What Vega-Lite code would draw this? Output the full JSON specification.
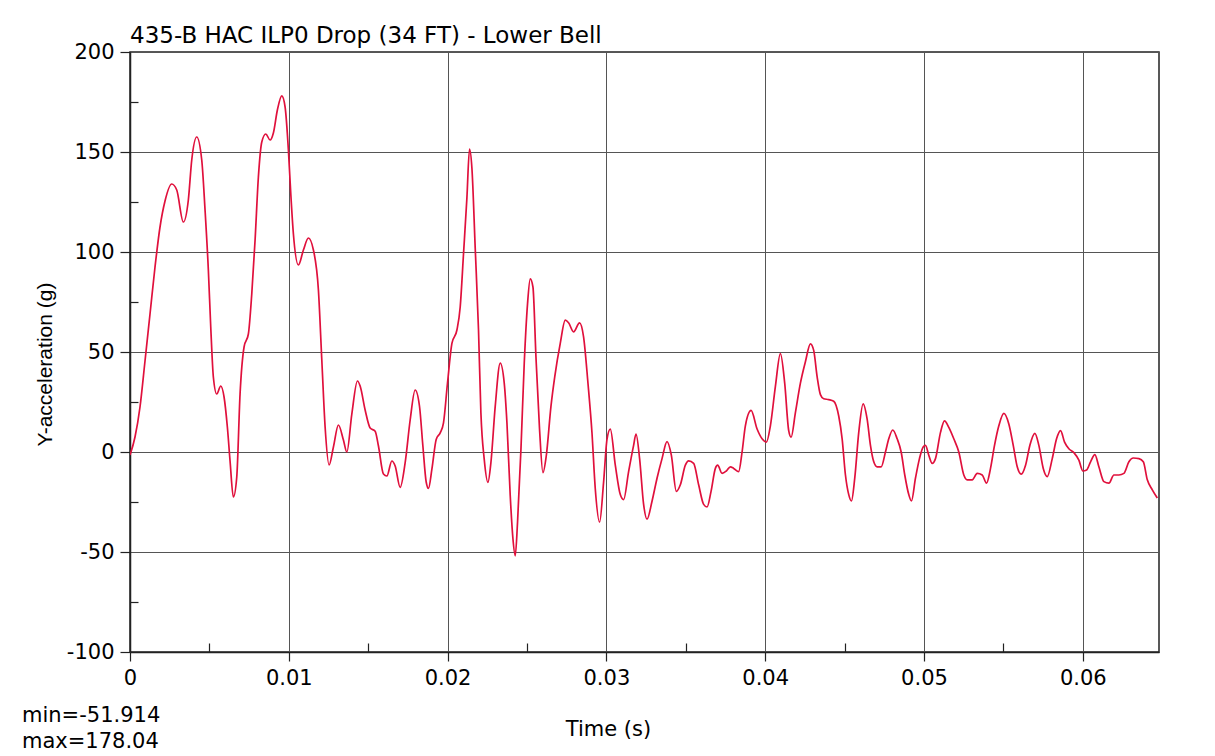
{
  "$schema": "https://vega.github.io/schema/vega-lite/v6.json",
  "width": 1029,
  "height": 600,
  "autosize": {"type": "none"},
  "padding": {"left": 130, "top": 52, "right": 56, "bottom": 104},
  "background": "white",
  "title": {
    "text": "435-B HAC ILP0 Drop (34 FT) - Lower Bell",
    "anchor": "start",
    "frame": "group",
    "font": "DejaVu Sans",
    "fontSize": 23,
    "fontWeight": "normal",
    "color": "#000000",
    "baseline": "alphabetic",
    "offset": -25
  },
  "config": {
    "view": {"stroke": "#222222", "strokeWidth": 1.5},
    "font": "DejaVu Sans"
  },
  "layer": [
    {
      "data": {
        "values": [
          {"time": 0, "accel": -1.5}, {"time": 0.000315, "accel": 7.5}, {"time": 0.00063, "accel": 22.5},
          {"time": 0.000945, "accel": 45.5}, {"time": 0.00126, "accel": 69}, {"time": 0.001575, "accel": 92.5},
          {"time": 0.00189, "accel": 112.5}, {"time": 0.002205, "accel": 125.5}, {"time": 0.002628, "accel": 134},
          {"time": 0.002943, "accel": 131}, {"time": 0.003359, "accel": 115}, {"time": 0.003674, "accel": 126},
          {"time": 0.003888, "accel": 146}, {"time": 0.004203, "accel": 157.5}, {"time": 0.004518, "accel": 146},
          {"time": 0.004726, "accel": 121}, {"time": 0.004934, "accel": 91}, {"time": 0.005085, "accel": 62.5},
          {"time": 0.005249, "accel": 37.5}, {"time": 0.005463, "accel": 29}, {"time": 0.005715, "accel": 33},
          {"time": 0.005923, "accel": 27.5}, {"time": 0.006131, "accel": 12.5}, {"time": 0.006301, "accel": -4.5},
          {"time": 0.006509, "accel": -22.5}, {"time": 0.006723, "accel": -12.5}, {"time": 0.006931, "accel": 29},
          {"time": 0.007183, "accel": 52.5}, {"time": 0.007454, "accel": 59}, {"time": 0.007668, "accel": 79},
          {"time": 0.007877, "accel": 106}, {"time": 0.008085, "accel": 137.5}, {"time": 0.008299, "accel": 155},
          {"time": 0.00855, "accel": 159}, {"time": 0.008822, "accel": 156}, {"time": 0.009029, "accel": 159.5},
          {"time": 0.009281, "accel": 171}, {"time": 0.009559, "accel": 178.04}, {"time": 0.009767, "accel": 172.5},
          {"time": 0.009975, "accel": 151}, {"time": 0.010126, "accel": 129}, {"time": 0.01029, "accel": 109},
          {"time": 0.010605, "accel": 93.5}, {"time": 0.01092, "accel": 101}, {"time": 0.011235, "accel": 107},
          {"time": 0.01155, "accel": 101}, {"time": 0.011865, "accel": 81}, {"time": 0.012079, "accel": 46},
          {"time": 0.012287, "accel": 12.5}, {"time": 0.012539, "accel": -6.5}, {"time": 0.01281, "accel": 2.5},
          {"time": 0.013125, "accel": 13.5}, {"time": 0.01344, "accel": 6}, {"time": 0.013655, "accel": 0},
          {"time": 0.01397, "accel": 19}, {"time": 0.014323, "accel": 35.5}, {"time": 0.014493, "accel": 33},
          {"time": 0.014808, "accel": 21}, {"time": 0.015123, "accel": 12}, {"time": 0.015438, "accel": 10.4},
          {"time": 0.015646, "accel": 3}, {"time": 0.015961, "accel": -11}, {"time": 0.016175, "accel": -12},
          {"time": 0.01649, "accel": -4.5}, {"time": 0.016698, "accel": -7}, {"time": 0.017013, "accel": -17.7},
          {"time": 0.017328, "accel": -5.3}, {"time": 0.017643, "accel": 16}, {"time": 0.017958, "accel": 31},
          {"time": 0.018229, "accel": 23}, {"time": 0.018444, "accel": 3}, {"time": 0.018652, "accel": -15},
          {"time": 0.018797, "accel": -18.2}, {"time": 0.019011, "accel": -8.6}, {"time": 0.019282, "accel": 6.3},
          {"time": 0.019534, "accel": 9.6}, {"time": 0.019742, "accel": 14.6}, {"time": 0.019994, "accel": 34.4},
          {"time": 0.020272, "accel": 54.3}, {"time": 0.020587, "accel": 61}, {"time": 0.020794, "accel": 72.5},
          {"time": 0.021002, "accel": 99}, {"time": 0.021216, "accel": 127}, {"time": 0.02138, "accel": 151.5},
          {"time": 0.021531, "accel": 142}, {"time": 0.021739, "accel": 102}, {"time": 0.021947, "accel": 61},
          {"time": 0.022098, "accel": 19.5}, {"time": 0.022306, "accel": -3.6}, {"time": 0.022539, "accel": -15.2},
          {"time": 0.022728, "accel": -5.3}, {"time": 0.022999, "accel": 22.8}, {"time": 0.023314, "accel": 44.4},
          {"time": 0.023567, "accel": 34.4}, {"time": 0.023737, "accel": 14.6}, {"time": 0.023945, "accel": -21.9},
          {"time": 0.024115, "accel": -43.4}, {"time": 0.024259, "accel": -51.914}, {"time": 0.024405, "accel": -35.1},
          {"time": 0.024619, "accel": 1.3}, {"time": 0.024827, "accel": 44.4}, {"time": 0.025035, "accel": 74.2},
          {"time": 0.025205, "accel": 86.6}, {"time": 0.025375, "accel": 82.5}, {"time": 0.025564, "accel": 47.7},
          {"time": 0.025791, "accel": 11.3}, {"time": 0.026005, "accel": -10.3}, {"time": 0.026213, "accel": -2},
          {"time": 0.026509, "accel": 22.8}, {"time": 0.026749, "accel": 37.7}, {"time": 0.027095, "accel": 54.3},
          {"time": 0.02741, "accel": 65.9}, {"time": 0.027618, "accel": 64.6}, {"time": 0.027933, "accel": 60.1},
          {"time": 0.028311, "accel": 64.6}, {"time": 0.028563, "accel": 57.6}, {"time": 0.02884, "accel": 34.4},
          {"time": 0.029092, "accel": 9.6}, {"time": 0.029301, "accel": -18.5}, {"time": 0.029572, "accel": -35.1},
          {"time": 0.029823, "accel": -15.2}, {"time": 0.030038, "accel": 6.3}, {"time": 0.030246, "accel": 11.4},
          {"time": 0.030561, "accel": -6.6}, {"time": 0.030876, "accel": -21.3}, {"time": 0.031084, "accel": -23.8},
          {"time": 0.031399, "accel": -9.8}, {"time": 0.031714, "accel": 3.3}, {"time": 0.031865, "accel": 9},
          {"time": 0.032092, "accel": -3.3}, {"time": 0.032344, "accel": -26.2}, {"time": 0.032559, "accel": -33.6},
          {"time": 0.032874, "accel": -24.6}, {"time": 0.033189, "accel": -13.1}, {"time": 0.033504, "accel": -3.3},
          {"time": 0.033819, "accel": 5.2}, {"time": 0.03409, "accel": -1.6}, {"time": 0.034405, "accel": -19.7},
          {"time": 0.034657, "accel": -16.4}, {"time": 0.034972, "accel": -6.6}, {"time": 0.03518, "accel": -4.4},
          {"time": 0.035495, "accel": -5.7}, {"time": 0.03581, "accel": -16.4}, {"time": 0.036125, "accel": -26.2},
          {"time": 0.036339, "accel": -27.5}, {"time": 0.036591, "accel": -19.7}, {"time": 0.036862, "accel": -8.2},
          {"time": 0.037007, "accel": -6.6}, {"time": 0.037284, "accel": -10.7}, {"time": 0.037555, "accel": -9.5},
          {"time": 0.037807, "accel": -7.4}, {"time": 0.038015, "accel": -8.2}, {"time": 0.03833, "accel": -9.8},
          {"time": 0.038545, "accel": 0}, {"time": 0.038752, "accel": 13.1}, {"time": 0.039112, "accel": 20.8},
          {"time": 0.03949, "accel": 11.5}, {"time": 0.039805, "accel": 6.6}, {"time": 0.040076, "accel": 4.9},
          {"time": 0.040328, "accel": 13.1}, {"time": 0.040643, "accel": 32.8}, {"time": 0.040958, "accel": 49.2},
          {"time": 0.041229, "accel": 34.4}, {"time": 0.041481, "accel": 10.7}, {"time": 0.041632, "accel": 7.4},
          {"time": 0.041903, "accel": 19.7}, {"time": 0.042218, "accel": 34.4}, {"time": 0.042533, "accel": 45.1},
          {"time": 0.042848, "accel": 54.1}, {"time": 0.043056, "accel": 50.8}, {"time": 0.04327, "accel": 37.7},
          {"time": 0.043478, "accel": 28.7}, {"time": 0.043686, "accel": 26.6}, {"time": 0.044001, "accel": 26.2},
          {"time": 0.044316, "accel": 25.4}, {"time": 0.044631, "accel": 18}, {"time": 0.044846, "accel": 6.6},
          {"time": 0.045054, "accel": -11.5}, {"time": 0.045262, "accel": -21.3}, {"time": 0.045432, "accel": -24.5},
          {"time": 0.04564, "accel": -13.1}, {"time": 0.045892, "accel": 9.8}, {"time": 0.046169, "accel": 24.1},
          {"time": 0.046421, "accel": 16.4}, {"time": 0.046629, "accel": 3.3}, {"time": 0.046837, "accel": -4.9},
          {"time": 0.047051, "accel": -7.4}, {"time": 0.047303, "accel": -7.4}, {"time": 0.047574, "accel": 0},
          {"time": 0.047782, "accel": 6.6}, {"time": 0.048034, "accel": 11}, {"time": 0.048311, "accel": 6.6},
          {"time": 0.048563, "accel": 0}, {"time": 0.04879, "accel": -11.5}, {"time": 0.049042, "accel": -21.3},
          {"time": 0.049212, "accel": -24.5}, {"time": 0.049464, "accel": -13.1}, {"time": 0.049716, "accel": -3.3},
          {"time": 0.049949, "accel": 2.5}, {"time": 0.050094, "accel": 3.3}, {"time": 0.050302, "accel": -1.6},
          {"time": 0.050517, "accel": -5.7}, {"time": 0.050725, "accel": -3.3}, {"time": 0.05104, "accel": 9.8},
          {"time": 0.051292, "accel": 15.6}, {"time": 0.051563, "accel": 12.3}, {"time": 0.051878, "accel": 6.6},
          {"time": 0.052193, "accel": 0}, {"time": 0.052508, "accel": -11.5}, {"time": 0.052722, "accel": -13.9},
          {"time": 0.053037, "accel": -13.9}, {"time": 0.053352, "accel": -10.7}, {"time": 0.053667, "accel": -11.5},
          {"time": 0.053938, "accel": -15.6}, {"time": 0.05419, "accel": -8.2}, {"time": 0.054442, "accel": 3.3},
          {"time": 0.054713, "accel": 13.1}, {"time": 0.055028, "accel": 19.3}, {"time": 0.055343, "accel": 14},
          {"time": 0.055621, "accel": 3.3}, {"time": 0.055873, "accel": -7.4}, {"time": 0.056125, "accel": -11.1},
          {"time": 0.056396, "accel": -6.6}, {"time": 0.056667, "accel": 3.3}, {"time": 0.056982, "accel": 9.3},
          {"time": 0.057234, "accel": 3.3}, {"time": 0.057511, "accel": -8.2}, {"time": 0.057763, "accel": -12.3},
          {"time": 0.058078, "accel": -3.3}, {"time": 0.058349, "accel": 6.6}, {"time": 0.058601, "accel": 10.7},
          {"time": 0.058853, "accel": 4.9}, {"time": 0.059124, "accel": 1.6}, {"time": 0.059439, "accel": -0.3},
          {"time": 0.059754, "accel": -4.1}, {"time": 0.060006, "accel": -9.5}, {"time": 0.060239, "accel": -9},
          {"time": 0.060491, "accel": -4.9}, {"time": 0.060762, "accel": -1.3}, {"time": 0.061014, "accel": -7.4},
          {"time": 0.06133, "accel": -14.8}, {"time": 0.061645, "accel": -15.6}, {"time": 0.06196, "accel": -11.5},
          {"time": 0.062275, "accel": -11.5}, {"time": 0.06259, "accel": -10.7}, {"time": 0.062905, "accel": -4.9},
          {"time": 0.063182, "accel": -3}, {"time": 0.063535, "accel": -3.3}, {"time": 0.063812, "accel": -4.9},
          {"time": 0.064064, "accel": -13.9}, {"time": 0.064379, "accel": -18.9}, {"time": 0.064694, "accel": -23}
        ]
      },
      "mark": {"type": "line", "color": "#e0103c", "strokeWidth": 1.7, "interpolate": "monotone", "clip": true},
      "encoding": {
        "x": {
          "field": "time",
          "type": "quantitative",
          "scale": {"domain": [0, 0.0648], "nice": false, "zero": false},
          "axis": {
            "values": [0, 0.005, 0.01, 0.015, 0.02, 0.025, 0.03, 0.035, 0.04, 0.045, 0.05, 0.055, 0.06],
            "labelExpr": "abs(datum.value * 100 - round(datum.value * 100)) < 0.001 ? format(datum.value, '.2~f') : ''",
            "grid": true,
            "gridColor": "#555555",
            "gridWidth": 1,
            "gridOpacity": {"condition": {"test": "abs(datum.value * 100 - round(datum.value * 100)) < 0.001", "value": 1}, "value": 0},
            "ticks": true,
            "tickColor": "#222222",
            "tickWidth": 1.2,
            "tickSize": {"condition": {"test": "abs(datum.value * 100 - round(datum.value * 100)) < 0.001", "value": 9}, "value": -9},
            "domainColor": "#222222",
            "domainWidth": 1.5,
            "labelFont": "DejaVu Sans",
            "labelFontSize": 21,
            "labelColor": "#000000",
            "labelPadding": 6,
            "labelFlush": false,
            "labelOverlap": false,
            "title": "Time (s)",
            "titleFont": "DejaVu Sans",
            "titleFontSize": 21,
            "titleFontWeight": "normal",
            "titleColor": "#000000",
            "titleBaseline": "alphabetic",
            "titleX": 478,
            "titleY": 83
          }
        },
        "y": {
          "field": "accel",
          "type": "quantitative",
          "scale": {"domain": [-100, 200], "nice": false, "zero": false},
          "axis": {
            "values": [-100, -75, -50, -25, 0, 25, 50, 75, 100, 125, 150, 175, 200],
            "labelExpr": "datum.value % 50 == 0 ? toString(datum.value) : ''",
            "grid": true,
            "gridColor": "#555555",
            "gridWidth": 1,
            "gridOpacity": {"condition": {"test": "datum.value % 50 == 0", "value": 1}, "value": 0},
            "ticks": true,
            "tickColor": "#222222",
            "tickWidth": 1.2,
            "tickSize": {"condition": {"test": "datum.value % 50 == 0", "value": 10}, "value": -8},
            "domainColor": "#222222",
            "domainWidth": 1.5,
            "labelFont": "DejaVu Sans",
            "labelFontSize": 21,
            "labelColor": "#000000",
            "labelPadding": 6,
            "labelFlush": false,
            "labelOverlap": false,
            "title": "Y-acceleration (g)",
            "titleFont": "Liberation Sans",
            "titleFontSize": 21,
            "titleFontWeight": "normal",
            "titleColor": "#000000",
            "titleBaseline": "alphabetic",
            "titleAngle": -90,
            "titleX": -79,
            "titleY": 312
          }
        }
      }
    },
    {
      "data": {"values": [{"summary": "min=-51.914\nmax=178.04"}]},
      "mark": {
        "type": "text",
        "font": "DejaVu Sans",
        "fontSize": 21,
        "color": "#000000",
        "align": "left",
        "baseline": "alphabetic",
        "lineBreak": "\n",
        "lineHeight": 26,
        "dx": -108,
        "dy": 70
      },
      "encoding": {
        "x": {"datum": 0},
        "y": {"datum": -100},
        "text": {"field": "summary", "type": "nominal"}
      }
    }
  ]
}
